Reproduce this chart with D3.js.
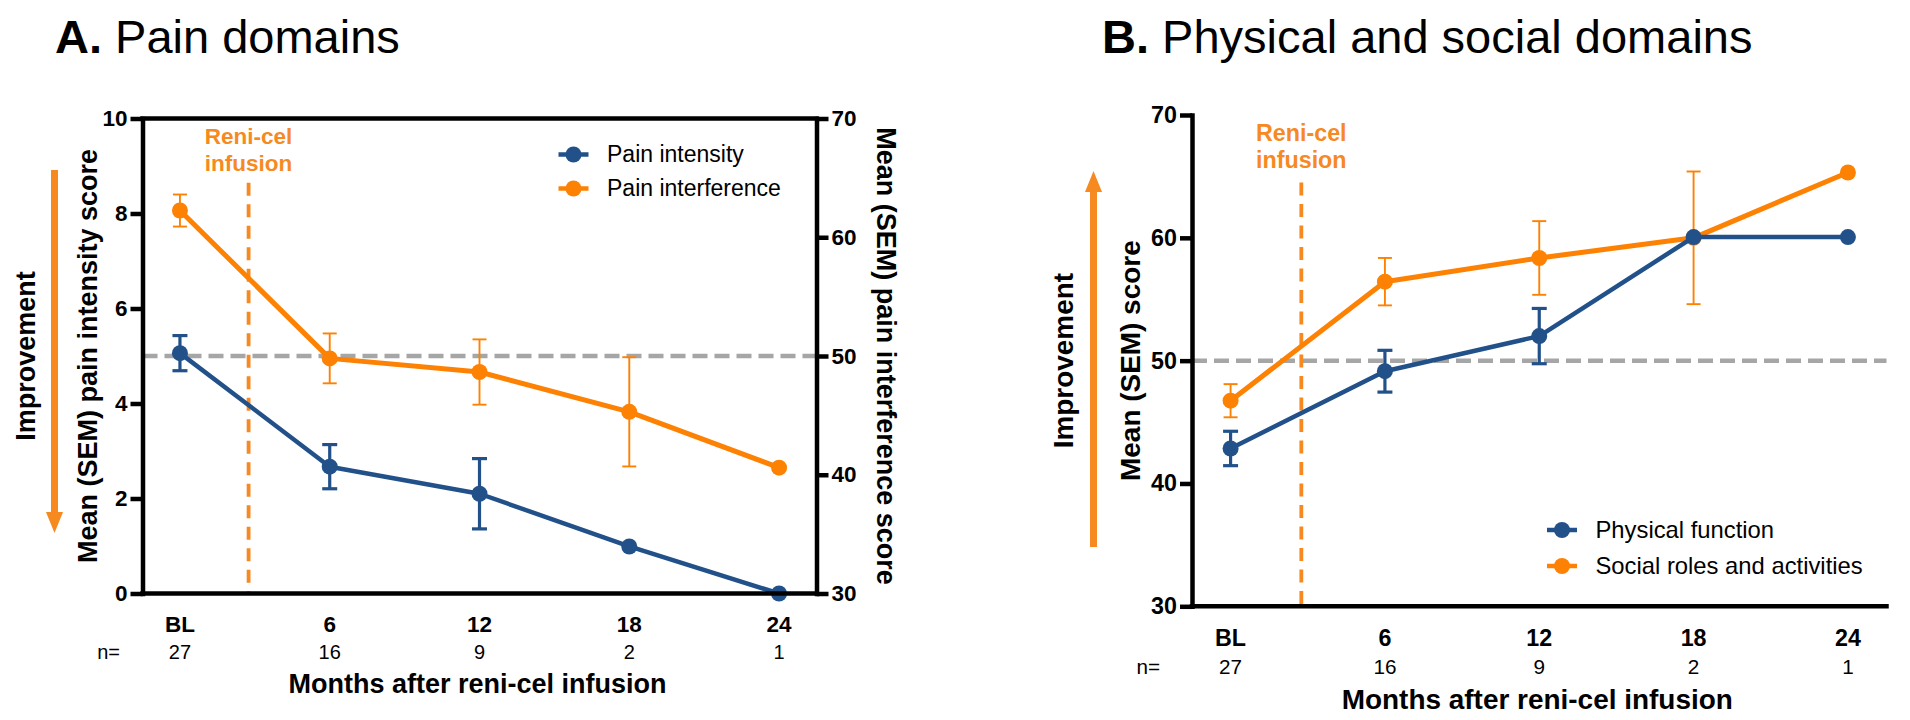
<!DOCTYPE html>
<html>
<head>
<meta charset="utf-8">
<script src="https://cdn.jsdelivr.net/npm/d3@7"></script>
<style>
  html, body { margin: 0; padding: 0; background: #fff; }
  svg { display: block; font-family: "Liberation Sans", Arial, Helvetica, sans-serif; }
</style>
</head>
<body>
<svg id="chart" width="1910" height="720"></svg>
<script>
// ---- data ----
const months = [0, 6, 12, 18, 24];
const monthLabels = ['BL', '6', '12', '18', '24'];
const nPatients = [27, 16, 9, 2, 1];
const infusionMonth = 2.75;

// Panel A
const painIntensity = [5.06, 2.67, 2.10, 0.99, 0];
const painIntensitySem = [0.37, 0.465, 0.74, 0, 0];
const painInterference = [62.25, 49.8, 48.65, 45.3, 40.6];
const painInterferenceSem = [1.35, 2.1, 2.75, 4.6, 0];
const intensityTicks = [0, 2, 4, 6, 8, 10];
const interferenceTicks = [30, 40, 50, 60, 70];

// Panel B
const physicalFunction = [42.85, 49.14, 52.0, 60.06, 60.06];
const physicalFunctionSem = [1.4, 1.7, 2.25, 0, 0];
const socialRoles = [46.74, 56.43, 58.36, 60.0, 65.32];
const socialRolesSem = [1.35, 1.93, 3.0, 5.4, 0];
const scoreTicks = [30, 40, 50, 60, 70];

const BLUE = '#22518a';
const ORANGE = '#fd8204';
const ACCENT = '#f6891f';
const GREY = '#a6a6a6';

const svg = d3.select('#chart');

/**
 * Draw one panel: axes, reference lines, series with SEM bars, legend and labels.
 */
function drawPanel(p) {
  const g = svg.append('g').attr('class', 'panel');
  const s = p.scale; // font scale for the panel

  const x = d3.scaleLinear().domain([-1.5, 25.5]).range(p.xRange);
  const yLeft = d3.scaleLinear().domain(p.leftDomain).range(p.yRange);
  const yRight = p.rightDomain
    ? d3.scaleLinear().domain(p.rightDomain).range(p.yRange)
    : null;

  // title
  const title = g.append('text')
    .attr('x', p.titleX).attr('y', 53)
    .attr('font-size', 47);
  title.append('tspan').attr('font-weight', 'bold').text(p.titleLetter);
  title.append('tspan').text(' ' + p.title);

  // grey reference line (population norm)
  g.append('line')
    .attr('x1', p.xRange[0]).attr('x2', p.xRange[1])
    .attr('y1', yLeft(p.refValue)).attr('y2', yLeft(p.refValue))
    .attr('stroke', GREY).attr('stroke-width', 4.5)
    .attr('stroke-dasharray', '15,7');

  // infusion marker
  g.append('line')
    .attr('x1', x(infusionMonth)).attr('x2', x(infusionMonth))
    .attr('y1', yLeft(p.infusionTop)).attr('y2', p.yRange[0])
    .attr('stroke', ACCENT).attr('stroke-width', 3.8)
    .attr('stroke-dasharray', '13,8.5');

  g.append('text')
    .attr('x', x(infusionMonth)).attr('y', p.yRange[1] + 25.5)
    .attr('text-anchor', 'middle')
    .attr('font-weight', 'bold').attr('font-size', 22.5 * s)
    .attr('fill', ACCENT)
    .selectAll('tspan')
    .data(['Reni-cel', 'infusion'])
    .join('tspan')
    .attr('x', x(infusionMonth))
    .attr('dy', (d, i) => i === 0 ? 0 : 27 * s)
    .text(d => d);

  // series
  p.series.forEach(ser => {
    const y = ser.axis === 'right' ? yRight : yLeft;
    const pts = months.map((m, i) => ({ m, v: ser.values[i], e: ser.sem[i] }));
    const sg = g.append('g');

    sg.selectAll('g.err')
      .data(pts.filter(d => d.e > 0))
      .join('g')
      .attr('class', 'err')
      .each(function(d) {
        const eg = d3.select(this);
        const cx = x(d.m);
        eg.append('line')
          .attr('x1', cx).attr('x2', cx)
          .attr('y1', y(d.v - d.e)).attr('y2', y(d.v + d.e));
        [d.v - d.e, d.v + d.e].forEach(v => {
          eg.append('line')
            .attr('x1', cx - ser.capW / 2).attr('x2', cx + ser.capW / 2)
            .attr('y1', y(v)).attr('y2', y(v));
        });
      })
      .attr('stroke', ser.color)
      .attr('stroke-width', ser.errWidth);

    sg.append('path')
      .datum(pts)
      .attr('fill', 'none')
      .attr('stroke', ser.color)
      .attr('stroke-width', ser.lineWidth)
      .attr('stroke-linejoin', 'round')
      .attr('d', d3.line().x(d => x(d.m)).y(d => y(d.v)));

    sg.selectAll('circle')
      .data(pts)
      .join('circle')
      .attr('cx', d => x(d.m))
      .attr('cy', d => y(d.v))
      .attr('r', 8)
      .attr('fill', ser.color);
  });

  // axes
  const styleAxis = sel => {
    sel.select('.domain').attr('stroke', '#000').attr('stroke-width', 4.5)
      .attr('stroke-linecap', 'square');
    sel.selectAll('.tick line').attr('stroke', '#000').attr('stroke-width', 4.5);
    sel.selectAll('.tick text')
      .attr('fill', '#000')
      .attr('font-weight', 'bold')
      .attr('font-size', 22.5 * s)
      .attr('font-family', '"Liberation Sans", Arial, sans-serif');
  };

  g.append('g')
    .attr('transform', `translate(${p.xRange[0]},0)`)
    .call(d3.axisLeft(yLeft).tickValues(p.leftTicks).tickSize(12)
      .tickSizeOuter(0).tickPadding(3).tickFormat(d3.format('d')))
    .call(styleAxis);

  if (yRight) {
    g.append('g')
      .attr('transform', `translate(${p.xRange[1]},0)`)
      .call(d3.axisRight(yRight).tickValues(p.rightTicks).tickSize(12)
        .tickSizeOuter(0).tickPadding(3).tickFormat(d3.format('d')))
      .call(styleAxis);
  }

  // bottom frame line (and top for the boxed panel)
  const frameY = p.boxed ? [p.yRange[0], p.yRange[1]] : [p.yRange[0]];
  g.selectAll('line.frame')
    .data(frameY)
    .join('line')
    .attr('class', 'frame')
    .attr('x1', p.xRange[0]).attr('x2', p.xRange[1])
    .attr('y1', d => d).attr('y2', d => d)
    .attr('stroke', '#000').attr('stroke-width', 4.5)
    .attr('stroke-linecap', 'square');

  // x category labels and n
  const base = p.yRange[0];
  g.selectAll('text.xlab')
    .data(months)
    .join('text')
    .attr('class', 'xlab')
    .attr('x', d => x(d)).attr('y', base + 38.5 * s)
    .attr('text-anchor', 'middle')
    .attr('font-weight', 'bold').attr('font-size', 22.5 * s)
    .text((d, i) => monthLabels[i]);

  g.selectAll('text.nlab')
    .data(months)
    .join('text')
    .attr('class', 'nlab')
    .attr('x', d => x(d)).attr('y', base + 65.5 * s)
    .attr('text-anchor', 'middle')
    .attr('font-size', 20 * s)
    .text((d, i) => nPatients[i]);

  g.append('text')
    .attr('x', p.nX).attr('y', base + 65.5 * s)
    .attr('text-anchor', 'end')
    .attr('font-size', 20 * s)
    .text('n=');

  g.append('text')
    .attr('x', (p.xRange[0] + p.xRange[1]) / 2 - 2).attr('y', base + 99 * s)
    .attr('text-anchor', 'middle')
    .attr('font-weight', 'bold').attr('font-size', 27 * s)
    .text('Months after reni-cel infusion');

  // y axis titles
  const midY = (p.yRange[0] + p.yRange[1]) / 2;
  g.append('text')
    .attr('transform', `translate(${p.leftTitleX},${midY}) rotate(-90)`)
    .attr('text-anchor', 'middle')
    .attr('font-weight', 'bold').attr('font-size', 27 * s)
    .text(p.leftTitle);

  if (p.rightTitle) {
    g.append('text')
      .attr('transform', `translate(${p.rightTitleX},${midY}) rotate(90)`)
      .attr('text-anchor', 'middle')
      .attr('font-weight', 'bold').attr('font-size', 27 * s)
      .text(p.rightTitle);
  }

  // improvement arrow
  g.append('text')
    .attr('transform', `translate(${p.improveX},${midY}) rotate(-90)`)
    .attr('text-anchor', 'middle')
    .attr('font-weight', 'bold').attr('font-size', 27 * s)
    .text('Improvement');

  const a = p.arrow;
  const dir = a.tip > a.tail ? 1 : -1;
  const headBase = a.tip - dir * 21;
  g.append('line')
    .attr('x1', a.x).attr('x2', a.x)
    .attr('y1', a.tail).attr('y2', headBase)
    .attr('stroke', ACCENT).attr('stroke-width', 7);
  g.append('path')
    .attr('d', `M${a.x - 8.5},${headBase}L${a.x + 8.5},${headBase}L${a.x},${a.tip}Z`)
    .attr('fill', ACCENT);

  // legend
  const lg = g.append('g')
    .attr('transform', `translate(${p.legend.x},${p.legend.y})`);
  const items = lg.selectAll('g')
    .data(p.series.slice().sort((u, v) => u.legendOrder - v.legendOrder))
    .join('g')
    .attr('transform', (d, i) => `translate(0,${i * p.legend.step})`);
  items.append('line')
    .attr('x1', -15).attr('x2', 15)
    .attr('stroke', d => d.color).attr('stroke-width', 4.5);
  items.append('circle').attr('r', 8).attr('fill', d => d.color);
  items.append('text')
    .attr('x', 33.5).attr('dy', '0.33em')
    .attr('font-size', 23 * s)
    .text(d => d.label);
}

drawPanel({
  titleLetter: 'A.', title: 'Pain domains', titleX: 55,
  scale: 1,
  xRange: [142.5, 816.5], yRange: [593.5, 118.5],
  leftDomain: [0, 10], leftTicks: intensityTicks,
  rightDomain: [30, 70], rightTicks: interferenceTicks,
  boxed: true,
  refValue: 5, infusionTop: 8.65,
  nX: 120,
  leftTitle: 'Mean (SEM) pain intensity score', leftTitleX: 97,
  rightTitle: 'Mean (SEM) pain interference score', rightTitleX: 877,
  improveX: 35,
  arrow: { x: 54.5, tail: 170, tip: 533 },
  legend: { x: 573.5, y: 154.5, step: 34 },
  series: [
    { label: 'Pain intensity', values: painIntensity, sem: painIntensitySem, axis: 'left',
      color: BLUE, lineWidth: 4.5, errWidth: 3.2, capW: 15, legendOrder: 0 },
    { label: 'Pain interference', values: painInterference, sem: painInterferenceSem, axis: 'right',
      color: ORANGE, lineWidth: 5, errWidth: 1.9, capW: 14, legendOrder: 1 }
  ]
});

drawPanel({
  titleLetter: 'B.', title: 'Physical and social domains', titleX: 1102,
  scale: 1.035,
  xRange: [1192, 1886.5], yRange: [606.3, 115],
  leftDomain: [30, 70], leftTicks: scoreTicks,
  boxed: false,
  refValue: 50, infusionTop: 64.5,
  nX: 1160,
  leftTitle: 'Mean (SEM) score', leftTitleX: 1140,
  improveX: 1073,
  arrow: { x: 1093.5, tail: 547, tip: 171 },
  legend: { x: 1562, y: 530, step: 36 },
  series: [
    { label: 'Social roles and activities', values: socialRoles, sem: socialRolesSem, axis: 'left',
      color: ORANGE, lineWidth: 5, errWidth: 1.9, capW: 14, legendOrder: 1 },
    { label: 'Physical function', values: physicalFunction, sem: physicalFunctionSem, axis: 'left',
      color: BLUE, lineWidth: 4.5, errWidth: 3.2, capW: 15, legendOrder: 0 }
  ]
});
</script>
</body>
</html>
